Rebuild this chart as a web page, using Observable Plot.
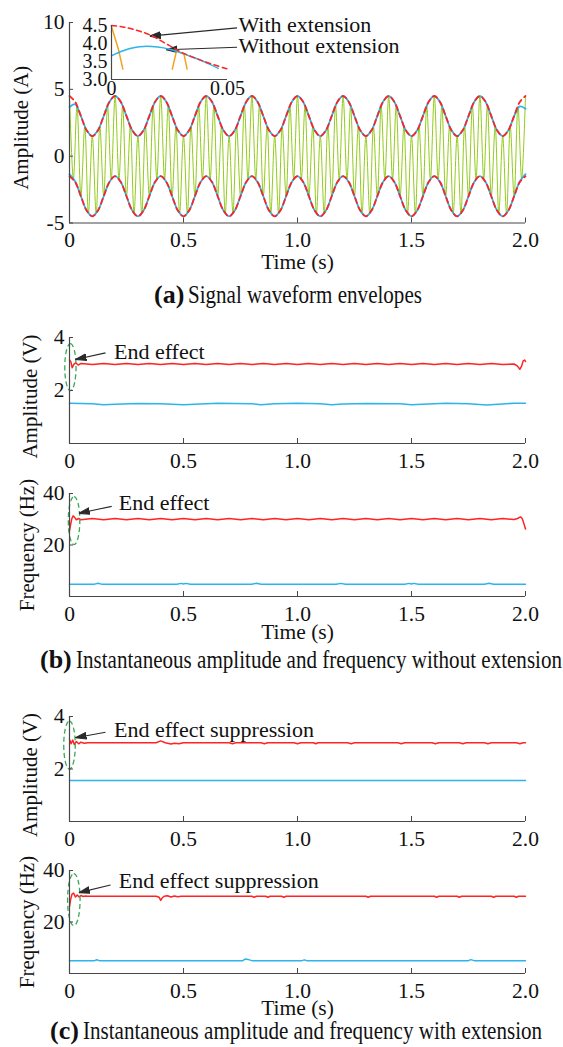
<!DOCTYPE html>
<html><head><meta charset="utf-8">
<script src="https://cdn.jsdelivr.net/npm/d3@7"></script>
<script src="https://cdn.jsdelivr.net/npm/@observablehq/plot@0.6"></script>
<style>
html,body{margin:0;padding:0;background:#fff;}
#fig{position:relative;width:563px;height:1047px;overflow:hidden;font-family:"Liberation Serif","Times New Roman",Times,serif;color:#111;}
#fig svg{position:absolute;left:0;}
.cap{position:absolute;white-space:nowrap;font-size:26px;line-height:26px;}
.cap b{font-weight:bold;}
.cap .ct{display:inline-block;transform:scaleX(0.81);transform-origin:0 50%;margin-left:4px;}
</style></head><body><div id="fig"></div>
<script>
// ---------- data ----------
const timeTicks = [0, 0.5, 1, 1.5, 2];
const timeLabels = ["0", "0.5", "1.0", "1.5", "2.0"];

// (a) signal extrema (30 Hz carrier)
const sigTime = [
0,0.017,0.033,0.05,0.067,0.083,0.1,0.117,0.133,0.15,0.167,0.183,
0.2,0.217,0.233,0.25,0.267,0.283,0.3,0.317,0.333,0.35,0.367,0.383,
0.4,0.417,0.433,0.45,0.467,0.483,0.5,0.517,0.533,0.55,0.567,0.583,
0.6,0.617,0.633,0.65,0.667,0.683,0.7,0.717,0.733,0.75,0.767,0.783,
0.8,0.817,0.833,0.85,0.867,0.883,0.9,0.917,0.933,0.95,0.967,0.983,
1.0,1.017,1.033,1.05,1.067,1.083,1.1,1.117,1.133,1.15,1.167,1.183,
1.2,1.217,1.233,1.25,1.267,1.283,1.3,1.317,1.333,1.35,1.367,1.383,
1.4,1.417,1.433,1.45,1.467,1.483,1.5,1.517,1.533,1.55,1.567,1.583,
1.6,1.617,1.633,1.65,1.667,1.683,1.7,1.717,1.733,1.75,1.767,1.783,
1.8,1.817,1.833,1.85,1.867,1.883,1.9,1.917,1.933,1.95,1.967,1.983,
2.0];
const sigValue = [
4.5,-1.7,3.75,-3,2.25,-4.3,1.5,-4.3,2.25,-3,3.75,-1.7,
4.5,-1.7,3.75,-3,2.25,-4.3,1.5,-4.3,2.25,-3,3.75,-1.7,
4.5,-1.7,3.75,-3,2.25,-4.3,1.5,-4.3,2.25,-3,3.75,-1.7,
4.5,-1.7,3.75,-3,2.25,-4.3,1.5,-4.3,2.25,-3,3.75,-1.7,
4.5,-1.7,3.75,-3,2.25,-4.3,1.5,-4.3,2.25,-3,3.75,-1.7,
4.5,-1.7,3.75,-3,2.25,-4.3,1.5,-4.3,2.25,-3,3.75,-1.7,
4.5,-1.7,3.75,-3,2.25,-4.3,1.5,-4.3,2.25,-3,3.75,-1.7,
4.5,-1.7,3.75,-3,2.25,-4.3,1.5,-4.3,2.25,-3,3.75,-1.7,
4.5,-1.7,3.75,-3,2.25,-4.3,1.5,-4.3,2.25,-3,3.75,-1.7,
4.5,-1.7,3.75,-3,2.25,-4.3,1.5,-4.3,2.25,-3,3.75,-1.7,
4.5];

// (a) envelopes
const envTime = [
0,0.025,0.05,0.075,0.1,0.125,0.15,0.175,
0.2,0.225,0.25,0.275,0.3,0.325,0.35,0.375,
0.4,0.425,0.45,0.475,0.5,0.525,0.55,0.575,
0.6,0.625,0.65,0.675,0.7,0.725,0.75,0.775,
0.8,0.825,0.85,0.875,0.9,0.925,0.95,0.975,
1.0,1.025,1.05,1.075,1.1,1.125,1.15,1.175,
1.2,1.225,1.25,1.275,1.3,1.325,1.35,1.375,
1.4,1.425,1.45,1.475,1.5,1.525,1.55,1.575,
1.6,1.625,1.65,1.675,1.7,1.725,1.75,1.775,
1.8,1.825,1.85,1.875,1.9,1.925,1.95,1.975,
2.0];
const redUpper = [
4.5,4.06,3,1.94,1.5,1.94,3,4.06, 4.5,4.06,3,1.94,1.5,1.94,3,4.06,
4.5,4.06,3,1.94,1.5,1.94,3,4.06, 4.5,4.06,3,1.94,1.5,1.94,3,4.06,
4.5,4.06,3,1.94,1.5,1.94,3,4.06, 4.5,4.06,3,1.94,1.5,1.94,3,4.06,
4.5,4.06,3,1.94,1.5,1.94,3,4.06, 4.5,4.06,3,1.94,1.5,1.94,3,4.06,
4.5,4.06,3,1.94,1.5,1.94,3,4.06, 4.5,4.06,3,1.94,1.5,1.94,3,4.06,
4.5];
const redLower = [
-1.5,-1.94,-3,-4.06,-4.5,-4.06,-3,-1.94, -1.5,-1.94,-3,-4.06,-4.5,-4.06,-3,-1.94,
-1.5,-1.94,-3,-4.06,-4.5,-4.06,-3,-1.94, -1.5,-1.94,-3,-4.06,-4.5,-4.06,-3,-1.94,
-1.5,-1.94,-3,-4.06,-4.5,-4.06,-3,-1.94, -1.5,-1.94,-3,-4.06,-4.5,-4.06,-3,-1.94,
-1.5,-1.94,-3,-4.06,-4.5,-4.06,-3,-1.94, -1.5,-1.94,-3,-4.06,-4.5,-4.06,-3,-1.94,
-1.5,-1.94,-3,-4.06,-4.5,-4.06,-3,-1.94, -1.5,-1.94,-3,-4.06,-4.5,-4.06,-3,-1.94,
-1.5];
const blueUpper = [
3.68,3.88,3,1.94,1.5,1.94,3,4.06, 4.5,4.06,3,1.94,1.5,1.94,3,4.06,
4.5,4.06,3,1.94,1.5,1.94,3,4.06, 4.5,4.06,3,1.94,1.5,1.94,3,4.06,
4.5,4.06,3,1.94,1.5,1.94,3,4.06, 4.5,4.06,3,1.94,1.5,1.94,3,4.06,
4.5,4.06,3,1.94,1.5,1.94,3,4.06, 4.5,4.06,3,1.94,1.5,1.94,3,4.06,
4.5,4.06,3,1.94,1.5,1.94,3,4.06, 4.5,4.06,3,1.94,1.5,1.94,3,3.72,
3.55];
const blueLower = [
-1.35,-1.9,-3,-4.06,-4.5,-4.06,-3,-1.94, -1.5,-1.94,-3,-4.06,-4.5,-4.06,-3,-1.94,
-1.5,-1.94,-3,-4.06,-4.5,-4.06,-3,-1.94, -1.5,-1.94,-3,-4.06,-4.5,-4.06,-3,-1.94,
-1.5,-1.94,-3,-4.06,-4.5,-4.06,-3,-1.94, -1.5,-1.94,-3,-4.06,-4.5,-4.06,-3,-1.94,
-1.5,-1.94,-3,-4.06,-4.5,-4.06,-3,-1.94, -1.5,-1.94,-3,-4.06,-4.5,-4.06,-3,-1.94,
-1.5,-1.94,-3,-4.06,-4.5,-4.06,-3,-1.94, -1.5,-1.94,-3,-4.06,-4.5,-4.06,-3,-1.9,
-1.35];

// (a) inset, t in [0, 0.05]
const insetRed = [[0,4.5],[0.005,4.46],[0.01,4.38],[0.0165,4.24],[0.025,3.94],[0.03,3.76],[0.04,3.5],[0.05,3.29]];
const insetBlue = [[0,3.66],[0.005,3.8],[0.01,3.89],[0.014,3.92],[0.02,3.9],[0.025,3.84],[0.03,3.74],[0.035,3.62],[0.04,3.49],[0.046,3.31]];
const insetOrange1 = [[0,4.47],[0.0031,3.81],[0.0049,3.29]];
const insetOrange2 = [[0.0262,3.29],[0.028,3.79],[0.0312,3.71],[0.0326,3.29]];

// (b) without extension
const bAmpRed = [[0,3.15],[0.006,3.08],[0.012,2.86],[0.02,3.0],[0.028,3.04],[0.038,2.96],[0.05,3.02],
[0.1,2.98],[0.15,3.02],[0.2,2.98],[0.25,3.02],[0.3,2.98],[0.35,3.02],[0.4,2.98],[0.45,3.02],[0.5,2.98],
[0.55,3.02],[0.6,2.98],[0.65,3.02],[0.7,2.98],[0.75,3.02],[0.8,2.98],[0.85,3.02],[0.9,2.98],[0.95,3.02],
[1.0,2.98],[1.05,3.02],[1.1,2.98],[1.15,3.02],[1.2,2.98],[1.25,3.02],[1.3,2.98],[1.35,3.02],[1.4,2.98],
[1.45,3.02],[1.5,2.98],[1.55,3.02],[1.6,2.98],[1.65,3.02],[1.7,2.98],[1.75,3.02],[1.8,2.98],[1.85,3.02],
[1.9,2.98],[1.95,3.0],[1.965,2.92],[1.975,2.8],[1.983,2.92],[1.99,3.12],[1.996,3.15],[2.0,3.1]];
const bAmpBlue = [[0,1.52],[0.1,1.5],[0.15,1.46],[0.2,1.48],[0.3,1.51],[0.4,1.5],[0.5,1.46],[0.55,1.48],
[0.65,1.52],[0.8,1.5],[0.84,1.46],[0.9,1.5],[1.0,1.52],[1.1,1.5],[1.15,1.46],[1.2,1.49],[1.3,1.51],
[1.45,1.5],[1.5,1.46],[1.55,1.48],[1.65,1.52],[1.75,1.5],[1.83,1.45],[1.88,1.48],[1.95,1.52],[2.0,1.52]];
const bFreqRed = [[0,25.5],[0.004,27.5],[0.01,30.2],[0.016,31.3],[0.022,30.8],[0.03,29.8],[0.04,30.3],[0.05,29.8],
[0.1,30.25],[0.15,29.8],[0.2,30.25],[0.25,29.8],[0.3,30.25],[0.35,29.8],[0.4,30.25],[0.45,29.8],[0.5,30.25],
[0.55,29.8],[0.6,30.25],[0.65,29.8],[0.7,30.25],[0.75,29.8],[0.8,30.25],[0.85,29.8],[0.9,30.25],[0.95,29.8],
[1.0,30.25],[1.05,29.8],[1.1,30.25],[1.15,29.8],[1.2,30.25],[1.25,29.8],[1.3,30.25],[1.35,29.8],[1.4,30.25],
[1.45,29.8],[1.5,30.25],[1.55,29.8],[1.6,30.25],[1.65,29.8],[1.7,30.25],[1.75,29.8],[1.8,30.25],[1.85,29.8],
[1.9,30.25],[1.95,29.9],[1.965,30.3],[1.978,30.9],[1.985,30.4],[1.992,28.6],[2.0,26.2]];
const bFreqBlue = [[0,4.8],[0.11,4.8],[0.125,5.15],[0.14,4.8],[0.47,4.8],[0.49,5.1],[0.5,4.85],[0.51,5.1],
[0.53,4.8],[0.8,4.8],[0.82,5.15],[0.84,4.8],[1.17,4.8],[1.19,5.1],[1.21,4.8],[1.47,4.8],[1.49,5.1],
[1.5,4.85],[1.51,5.1],[1.53,4.8],[1.82,4.8],[1.84,5.15],[1.86,4.8],[2.0,4.8]];

// (c) with extension
const cAmpRed = [[0,3.12],[0.007,2.96],[0.014,3.1],[0.021,2.93],[0.03,3.05],[0.04,2.96],[0.05,3.02],
[0.065,2.98],[0.08,3.0],[0.38,3.0],[0.4,3.07],[0.42,3.0],[0.445,2.95],[0.46,2.98],[0.48,2.96],[0.5,3.0],
[0.7,3.0],[0.715,2.96],[0.73,3.0],[0.84,3.0],[0.855,2.96],[0.87,3.0],[0.985,3.0],[1.0,2.96],[1.015,3.0],
[1.07,3.0],[1.08,2.96],[1.09,3.0],[1.22,3.0],[1.235,2.96],[1.25,3.0],[1.44,3.0],[1.455,2.96],[1.47,3.0],
[1.59,3.0],[1.605,2.96],[1.62,3.0],[1.71,3.0],[1.725,2.96],[1.74,3.0],[1.82,3.0],[1.835,2.96],[1.85,3.0],
[1.96,3.0],[1.975,2.96],[1.99,3.0],[2.0,3.0]];
const cAmpBlue = [[0,1.56],[2.0,1.56]];
const cFreqRed = [[0,26],[0.005,28.8],[0.011,30.8],[0.018,31.2],[0.026,29.7],[0.034,30.5],[0.042,29.7],
[0.05,30.3],[0.06,29.9],[0.07,30.1],[0.08,30],[0.38,30],[0.393,29.6],[0.4,28.4],[0.406,29.3],[0.415,30],
[0.43,30.2],[0.445,29.7],[0.46,30.1],[0.475,29.8],[0.49,30],[0.8,30],[0.81,29.6],[0.82,30],[0.86,30],
[0.87,29.6],[0.88,30],[0.93,30],[0.94,29.6],[0.95,30],[1.3,30],[1.31,29.6],[1.32,30],[1.6,30],[1.61,29.6],
[1.62,30],[1.7,30],[1.71,29.6],[1.72,30],[1.85,30],[1.86,29.6],[1.87,30],[1.95,30],[1.96,29.6],[1.97,30],[2.0,30]];
const cFreqBlue = [[0,5],[0.11,5],[0.12,5.35],[0.13,5],[0.76,5],[0.77,5.6],[0.785,5.4],[0.8,5],[1.02,5],
[1.03,5.3],[1.04,5],[1.75,5],[1.76,5.4],[1.775,5],[2.0,5]];

// annotations (data coordinates)
const aNotes = [{t:0.741, v:9.78, s:"With extension"}, {t:0.741, v:8.23, s:"Without extension"}];
const aArrows = [{t1:0.735, v1:9.6, t2:0.352, v2:8.98}, {t1:0.735, v1:8.15, t2:0.425, v2:7.96}];
const bAmpNote = {t:0.195, v:3.45, s:"End effect", t1:0.158, v1:3.42, t2:0.026, v2:3.17, et:0.004, ev:2.88, er:23.5};
const bFreqNote = {t:0.216, v:36.3, s:"End effect", t1:0.185, v1:35.0, t2:0.041, v2:32.3, et:0.02, ev:29.5, er:24};
const cAmpNote = {t:0.195, v:3.47, s:"End effect suppression", t1:0.158, v1:3.4, t2:0.026, v2:3.19, et:0.0, ev:2.91, er:24};
const cFreqNote = {t:0.216, v:35.9, s:"End effect suppression", t1:0.18, v1:34.4, t2:0.041, v2:31.4, et:0.019, ev:28.7, er:26};

// ---------- styling ----------
const FONT = '"Liberation Serif","Times New Roman",Times,serif';
const W = 563, X0 = 69, X1 = 525;
const AXIS = "#474747", INK = "#111", ARROW = "#2a2a2a";
const RED = "#ff2323", BLUE = "#2db4ec", GREEN = "#93cb1b", ORANGE = "#f4a11c", ELL = "#38aa56";
const fig = document.getElementById("fig");
const timeFmt = d => timeLabels[timeTicks.indexOf(d)];
const SVGNS = "http://www.w3.org/2000/svg";

const ellipseSymbol = {
  draw(ctx, size) {
    const ry = Math.sqrt(size / Math.PI), rx = ry * 0.24, k = 0.5523;
    ctx.moveTo(0, -ry);
    ctx.bezierCurveTo(k * rx, -ry, rx, -k * ry, rx, 0);
    ctx.bezierCurveTo(rx, k * ry, k * rx, ry, 0, ry);
    ctx.bezierCurveTo(-k * rx, ry, -rx, k * ry, -rx, 0);
    ctx.bezierCurveTo(-rx, -k * ry, -k * rx, -ry, 0, -ry);
    ctx.closePath();
  }
};

// filled triangular arrowhead marker
function filledArrow(color) {
  const m = document.createElementNS(SVGNS, "marker");
  m.setAttribute("viewBox", "-11 -4 11 8");
  m.setAttribute("markerWidth", "11");
  m.setAttribute("markerHeight", "8");
  m.setAttribute("markerUnits", "userSpaceOnUse");
  m.setAttribute("orient", "auto");
  m.setAttribute("refX", "0");
  m.setAttribute("refY", "0");
  const p = document.createElementNS(SVGNS, "path");
  p.setAttribute("d", "M-11,-3.3L0,0L-11,3.3Z");
  p.setAttribute("fill", color);
  m.appendChild(p);
  return m;
}
let useMarker = true;
try {
  Plot.plot({width: 50, height: 50, marks: [Plot.link([{a: 0, b: 1}], {x1: "a", y1: "a", x2: "b", y2: "b", markerEnd: filledArrow})]});
} catch (e) { useMarker = false; }
function arrowMark(data) {
  const o = {x1: "t1", y1: "v1", x2: "t2", y2: "v2", stroke: ARROW, strokeWidth: 1.1};
  return useMarker
    ? Plot.link(data, {...o, markerEnd: filledArrow})
    : Plot.arrow(data, {...o, headLength: 9, headAngle: 40});
}

function place(svg, top) {
  svg.style.position = "absolute";
  svg.style.top = top + "px";
  svg.style.left = "0px";
  fig.appendChild(svg);
}

function panel({top, frameTop, frameBottom, height, yDomain, yTicks, yFmt, yLabel, yLabelDx, yLabelDy, timeDy, marks}) {
  const svg = Plot.plot({
    width: W, height,
    marginLeft: X0, marginRight: W - X1,
    marginTop: frameTop - top, marginBottom: height - (frameBottom - top),
    x: {domain: [0, 2]},
    y: {domain: yDomain},
    style: {fontFamily: FONT, fontSize: "21px", background: "transparent", overflow: "visible", color: INK},
    marks: [
      ...marks,
      Plot.ruleX([0], {stroke: AXIS, strokeWidth: 1.2}),
      Plot.ruleY([yDomain[0]], {stroke: AXIS, strokeWidth: 1.2}),
      Plot.tickX(timeTicks, {x: d => d, stroke: AXIS, insetTop: (frameBottom - frameTop) - 5}),
      Plot.tickY(yTicks, {y: d => d, stroke: AXIS, insetRight: (X1 - X0) - 4}),
      Plot.axisX(timeTicks, {tickSize: 0, tickPadding: 9, tickFormat: timeFmt, fontSize: 21.5, label: null}),
      Plot.axisY(yTicks, {tickSize: 0, tickPadding: 5, tickFormat: yFmt, fontSize: 21.5, label: null}),
      Plot.text([yLabel], {frameAnchor: "left", textAnchor: "middle", lineAnchor: "middle", rotate: -90, dx: yLabelDx, dy: yLabelDy, fontSize: 21, fill: INK}),
      timeDy ? Plot.text(["Time (s)"], {frameAnchor: "bottom", textAnchor: "middle", lineAnchor: "middle", dy: timeDy, fontSize: 21.5, fill: INK}) : null
    ]
  });
  place(svg, top);
}

function noteMarks(n) {
  return [
    Plot.dot([n], {x: "et", y: "ev", r: n.er, symbol: ellipseSymbol, stroke: ELL, fill: "none", strokeWidth: 1.3, strokeDasharray: "5,3"}),
    arrowMark([n]),
    Plot.text([n], {x: "t", y: "v", text: "s", textAnchor: "start", lineAnchor: "middle", fontSize: 22, fill: INK})
  ];
}
const lineOpts = (c) => ({x: d => d[0], y: d => d[1], stroke: c, strokeWidth: 1.5});

// ---------- (a) ----------
const sig = sigTime.map((t, i) => ({t, v: sigValue[i]}));
const env = envTime.map((t, i) => ({t, ru: redUpper[i], rl: redLower[i], bu: blueUpper[i], bl: blueLower[i]}));
panel({
  top: 0, frameTop: 22, frameBottom: 222.5, height: 275,
  yDomain: [-5, 10], yTicks: [-5, 0, 5, 10], yFmt: d => String(d),
  yLabel: "Amplitude (A)", yLabelDx: -48, yLabelDy: 5, timeDy: 39,
  marks: [
    Plot.line(sig, {x: "t", y: "v", stroke: GREEN, strokeWidth: 1, curve: "catmull-rom"}),
    Plot.line(env, {x: "t", y: "bu", stroke: BLUE, strokeWidth: 1.8, curve: "catmull-rom"}),
    Plot.line(env, {x: "t", y: "bl", stroke: BLUE, strokeWidth: 1.8, curve: "catmull-rom"}),
    Plot.line(env, {x: "t", y: "ru", stroke: RED, strokeWidth: 1.8, strokeDasharray: "5,4", curve: "catmull-rom"}),
    Plot.line(env, {x: "t", y: "rl", stroke: RED, strokeWidth: 1.8, strokeDasharray: "5,4", curve: "catmull-rom"}),
    arrowMark(aArrows),
    Plot.text(aNotes, {x: "t", y: "v", text: "s", textAnchor: "start", lineAnchor: "middle", fontSize: 22, fill: INK})
  ]
});

// inset
const inset = Plot.plot({
  width: W, height: 100,
  marginLeft: 111, marginRight: W - 227, marginTop: 25, marginBottom: 21,
  x: {domain: [0, 0.05]}, y: {domain: [3.0, 4.5]},
  style: {fontFamily: FONT, fontSize: "20px", background: "transparent", overflow: "visible", color: INK},
  marks: [
    Plot.line(insetOrange1, lineOpts(ORANGE)),
    Plot.line(insetOrange2, lineOpts(ORANGE)),
    Plot.line(insetBlue, {...lineOpts(BLUE), curve: "catmull-rom"}),
    Plot.line(insetRed, {...lineOpts(RED), strokeDasharray: "5,3.5", curve: "catmull-rom"}),
    Plot.ruleX([0], {stroke: AXIS, strokeWidth: 1.2}),
    Plot.ruleY([3.0], {stroke: AXIS, strokeWidth: 1.2}),
    Plot.axisX([0, 0.05], {tickSize: 0, tickPadding: 1, tickFormat: d => d === 0 ? "0" : "0.05", fontSize: 20, label: null}),
    Plot.axisY([3.0, 3.5, 4.0, 4.5], {tickSize: 0, tickPadding: 4, tickFormat: d => d.toFixed(1), fontSize: 20, label: null})
  ]
});
place(inset, 0);

// ---------- (b) ----------
panel({
  top: 300, frameTop: 337, frameBottom: 443, height: 183,
  yDomain: [0, 4], yTicks: [2, 4], yFmt: d => String(d),
  yLabel: "Amplitude (V)", yLabelDx: -39, yLabelDy: 6, timeDy: 0,
  marks: [
    Plot.line(bAmpBlue, lineOpts(BLUE)),
    Plot.line(bAmpRed, lineOpts(RED)),
    ...noteMarks(bAmpNote)
  ]
});
panel({
  top: 470, frameTop: 493, frameBottom: 596, height: 171,
  yDomain: [0, 40], yTicks: [20, 40], yFmt: d => String(d),
  yLabel: "Frequency (Hz)", yLabelDx: -42, yLabelDy: 0, timeDy: 36,
  marks: [
    Plot.line(bFreqBlue, lineOpts(BLUE)),
    Plot.line(bFreqRed, lineOpts(RED)),
    ...noteMarks(bFreqNote)
  ]
});

// ---------- (c) ----------
panel({
  top: 680, frameTop: 716, frameBottom: 821, height: 181,
  yDomain: [0, 4], yTicks: [2, 4], yFmt: d => String(d),
  yLabel: "Amplitude (V)", yLabelDx: -39, yLabelDy: 6, timeDy: 0,
  marks: [
    Plot.line(cAmpBlue, lineOpts(BLUE)),
    Plot.line(cAmpRed, lineOpts(RED)),
    ...noteMarks(cAmpNote)
  ]
});
panel({
  top: 850, frameTop: 870, frameBottom: 973, height: 168,
  yDomain: [0, 40], yTicks: [20, 40], yFmt: d => String(d),
  yLabel: "Frequency (Hz)", yLabelDx: -42, yLabelDy: 0, timeDy: 35,
  marks: [
    Plot.line(cFreqBlue, lineOpts(BLUE)),
    Plot.line(cFreqRed, lineOpts(RED)),
    ...noteMarks(cFreqNote)
  ]
});

// ---------- captions ----------
const captions = [
  {tag: "(a)", text: "Signal waveform envelopes", left: 154, top: 282},
  {tag: "(b)", text: "Instantaneous amplitude and frequency without extension", left: 40, top: 647},
  {tag: "(c)", text: "Instantaneous amplitude and frequency with extension", left: 50, top: 1018}
];
for (const c of captions) {
  const d = document.createElement("div");
  d.className = "cap";
  d.style.left = c.left + "px";
  d.style.top = c.top + "px";
  const b = document.createElement("b"); b.textContent = c.tag;
  const s = document.createElement("span"); s.className = "ct"; s.textContent = c.text;
  d.appendChild(b); d.appendChild(s);
  fig.appendChild(d);
}
</script></body></html>
